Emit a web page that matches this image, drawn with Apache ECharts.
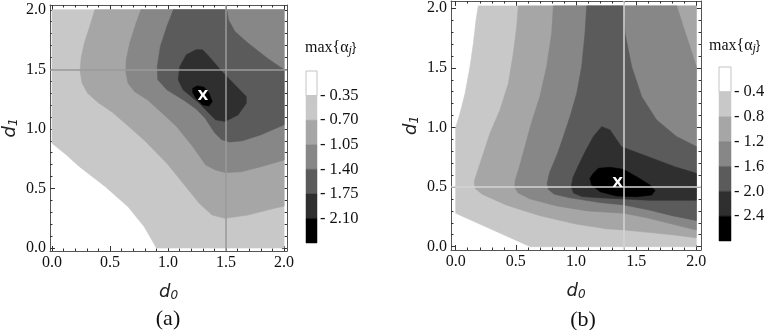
<!DOCTYPE html>
<html>
<head>
<meta charset="utf-8">
<script src="https://cdn.jsdelivr.net/npm/echarts@6/dist/echarts.min.js"></script>
<style>
  html, body { margin: 0; background: #fff; }
  #chart { width: 768px; height: 330px; }
</style>
</head>
<body>
<div id="chart"></div>
<script>
// contour levels shown in the two colour bars
const aLevels = [0.35, 0.70, 1.05, 1.40, 1.75, 2.10]
const bLevels = [0.4, 0.8, 1.2, 1.6, 2.0, 2.4]
const grays = ['#ffffff', '#c8c8c8', '#a6a6a6', '#878787', '#5b5b5b', '#2f2f2f', '#000000']

const majorTicks = [0, 0.5, 1.0, 1.5, 2.0]
const minorTicks = [0.1, 0.2, 0.3, 0.4, 0.6, 0.7, 0.8, 0.9, 1.1, 1.2, 1.3, 1.4, 1.6, 1.7, 1.8, 1.9]

// (a) regions max{a_j} > level as (d0, d1)
const aBand1 = [[0, 2], [0, 0.88], [0.12, 0.785], [0.237, 0.683], [0.46, 0.515], [0.655, 0.347], [0.795, 0.179], [0.9, 0], [2, 0], [2, 2]]
const aBand2 = [[0.37, 2], [0.335, 1.888], [0.279, 1.72], [0.251, 1.594], [0.243, 1.482], [0.26, 1.384], [0.307, 1.3], [0.40, 1.22], [0.52, 1.14], [0.64, 1.04], [0.80, 0.90], [0.99, 0.711], [1.13, 0.543], [1.269, 0.375], [1.38, 0.277], [1.49, 0.249], [1.688, 0.277], [1.855, 0.319], [2, 0.353], [2, 2]]
const aBand3 = [[0.767, 2], [0.725, 1.888], [0.67, 1.72], [0.64, 1.58], [0.636, 1.48], [0.655, 1.384], [0.711, 1.314], [0.823, 1.244], [0.93, 1.15], [1.074, 1.02], [1.213, 0.852], [1.325, 0.697], [1.409, 0.655], [1.492, 0.633], [1.632, 0.641], [1.8, 0.683], [2, 0.739], [2, 2]]
const aBand4 = [[1.046, 2], [0.99, 1.86], [0.934, 1.692], [0.907, 1.524], [0.912, 1.412], [0.99, 1.328], [1.13, 1.244], [1.24, 1.17], [1.32, 1.09], [1.40, 0.97], [1.46, 0.91], [1.53, 0.89], [1.64, 0.90], [1.80, 0.95], [2, 1.035], [2, 1.496], [1.855, 1.594], [1.688, 1.72], [1.576, 1.818], [1.52, 1.916], [1.506, 2]]
const aBand5 = [[1.241, 1.664], [1.158, 1.622], [1.102, 1.524], [1.088, 1.412], [1.13, 1.328], [1.269, 1.216], [1.409, 1.076], [1.492, 1.062], [1.604, 1.118], [1.674, 1.216], [1.674, 1.272], [1.604, 1.342], [1.464, 1.482], [1.353, 1.608], [1.297, 1.664]]
const aBand6 = [[1.213, 1.342], [1.255, 1.361], [1.311, 1.35], [1.353, 1.3], [1.381, 1.23], [1.353, 1.193], [1.297, 1.202], [1.241, 1.258], [1.213, 1.306]]

// (b)
const bBand1 = [[0.188, 2.02], [0.169, 1.9], [0.147, 1.706], [0.119, 1.51], [0.078, 1.286], [0.036, 1.119], [0, 1.0], [0, 0.28], [0.62, 0], [2, 0], [2, 2.02]]
const bBand2 = [[0.52, 2.02], [0.507, 1.846], [0.479, 1.622], [0.438, 1.37], [0.368, 1.147], [0.285, 0.951], [0.2, 0.69], [0.155, 0.55], [0.16, 0.49], [0.22, 0.44], [0.42, 0.35], [0.7, 0.26], [1.0, 0.19], [1.25, 0.15], [1.4, 0.14], [1.6, 0.12], [1.8, 0.10], [2, 0.075], [2, 2.02]]
const bBand3 = [[0.812, 2.02], [0.798, 1.79], [0.756, 1.51], [0.70, 1.26], [0.63, 1.04], [0.576, 0.84], [0.53, 0.67], [0.495, 0.56], [0.49, 0.5], [0.52, 0.45], [0.62, 0.40], [0.85, 0.34], [1.1, 0.30], [1.4, 0.28], [1.6, 0.24], [1.8, 0.19], [2, 0.14], [2, 1.51], [1.947, 1.678], [1.892, 1.846], [1.837, 2.02]]
const bBand4 = [[1.089, 2.02], [1.075, 1.79], [1.047, 1.51], [1.006, 1.286], [0.95, 1.09], [0.895, 0.923], [0.85, 0.79], [0.78, 0.62], [0.76, 0.53], [0.77, 0.48], [0.82, 0.44], [0.95, 0.41], [1.2, 0.37], [1.4, 0.35], [1.6, 0.31], [1.8, 0.26], [2, 0.22], [2, 0.84], [1.837, 0.923], [1.67, 1.063], [1.546, 1.258], [1.463, 1.51], [1.407, 1.79], [1.393, 2.02]]
const bBand5 = [[1.213, 1.007], [1.144, 0.923], [1.075, 0.794], [1.02, 0.68], [0.975, 0.58], [0.96, 0.5], [0.98, 0.45], [1.05, 0.42], [1.2, 0.41], [1.4, 0.40], [1.6, 0.39], [1.8, 0.39], [2, 0.39], [2, 0.615], [1.82, 0.671], [1.598, 0.755], [1.377, 0.839], [1.283, 0.979]]
const bBand6 = [[1.144, 0.615], [1.186, 0.657], [1.283, 0.666], [1.393, 0.649], [1.504, 0.587], [1.615, 0.517], [1.657, 0.47], [1.629, 0.433], [1.504, 0.419], [1.338, 0.425], [1.2, 0.461], [1.13, 0.517], [1.116, 0.573]]

// reference lines and optimum marker
const aGridX = [1.5], aGridY = [1.5], aBest = [1.3, 1.27]
const bGridX = [1.4], bGridY = [0.5], bBest = [1.346, 0.53]

const aBands = [aBand1, aBand2, aBand3, aBand4, aBand5, aBand6]
const bBands = [bBand1, bBand2, bBand3, bBand4, bBand5, bBand6]

const serif = '"Liberation Serif", "DejaVu Serif", serif'
const sans = '"DejaVu Sans", sans-serif'

const nameStyle = {
  rich: {
    d: {fontFamily: sans, fontStyle: 'italic', fontSize: 18, color: '#222'},
    s: {fontFamily: sans, fontStyle: 'italic', fontSize: 12, color: '#222', verticalAlign: 'bottom', padding: [8, 0, 0, 0]}
  }
}

// frame axes like Mathematica: major + minor ticks on all four sides
function frameAxes(dim, gi, min, max, name) {
  const sides = dim === 'x' ? ['bottom', 'top'] : ['left', 'right']
  const out = []
  sides.forEach((side, k) => {
    const main = k === 0
    out.push({
      type: 'value', gridIndex: gi, position: side, min: min, max: max,
      name: main ? name : '', nameLocation: 'middle',
      nameGap: dim === 'x' ? 31 : 30, nameRotate: dim === 'y' ? 90 : 0,
      nameTextStyle: nameStyle,
      axisLine: {show: true, onZero: false, lineStyle: {color: '#555', width: 1}},
      splitLine: {show: false},
      axisTick: {show: true, inside: true, length: 5, customValues: majorTicks, lineStyle: {color: '#333'}},
      axisLabel: {show: main, customValues: majorTicks, formatter: v => v.toFixed(1),
        fontFamily: serif, fontSize: 16, color: '#111', margin: 4}
    })
    out.push({
      type: 'value', gridIndex: gi, position: side, min: min, max: max,
      axisLine: {show: false, onZero: false}, splitLine: {show: false},
      axisTick: {show: true, inside: true, length: 2.5, customValues: minorTicks, lineStyle: {color: '#333'}},
      axisLabel: {show: false}
    })
  })
  return out
}

function bandSeries(bands, ai) {
  return {
    type: 'custom', xAxisIndex: ai, yAxisIndex: ai, silent: true, animation: false,
    data: bands.map(b => b[0]),
    renderItem: (params, api) => {
      const pts = bands[params.dataIndex].map(p => api.coord(p))
      const c = grays[params.dataIndex + 1]
      return {type: 'polygon', shape: {points: pts}, style: {fill: c, stroke: c, lineWidth: 0.6}}
    }
  }
}

function refSeries(ai, gx, gy, best, lineColor) {
  return {
    type: 'custom', xAxisIndex: ai, yAxisIndex: ai, silent: true, animation: false, z: 5,
    data: [best],
    renderItem: (params, api) => {
      const p = api.coord([api.value(0), api.value(1)])
      return {type: 'text', x: p[0], y: p[1],
        style: {text: 'X', fill: '#fff', font: 'bold 14px ' + sans, align: 'center', verticalAlign: 'middle'}}
    },
    markLine: {
      silent: true, symbol: 'none', animation: false, label: {show: false},
      lineStyle: {color: lineColor, width: 1.5, type: 'solid'},
      data: gx.map(v => ({xAxis: v})).concat(gy.map(v => ({yAxis: v})))
    }
  }
}

function barSeries(levels, top, ai) {
  const edges = [0].concat(levels, [top])
  const data = []
  for (let i = 0; i < edges.length - 1; i++) data.push([edges[i], edges[i + 1]])
  return {
    type: 'custom', xAxisIndex: ai, yAxisIndex: ai, silent: true, animation: false,
    data: data,
    renderItem: (params, api) => {
      const p0 = api.coord([0, api.value(0)])
      const p1 = api.coord([1, api.value(1)])
      const first = params.dataIndex === 0
      return {type: 'rect', shape: {x: p0[0], y: p0[1], width: p1[0] - p0[0], height: p1[1] - p0[1]},
        style: {fill: grays[params.dataIndex], stroke: first ? '#c4c4c4' : grays[params.dataIndex], lineWidth: first ? 1 : 0.5}}
    }
  }
}

function barAxes(gi, levels, top, digits) {
  return {
    x: {type: 'value', gridIndex: gi, min: 0, max: 1, show: false},
    y: {type: 'value', gridIndex: gi, min: 0, max: top, inverse: true, position: 'right',
      axisLine: {show: false}, axisTick: {show: false}, splitLine: {show: false},
      axisLabel: {show: true, customValues: levels, formatter: v => '- ' + v.toFixed(digits),
        fontFamily: serif, fontSize: 16.5, color: '#111', margin: 3}}
  }
}

const aBar = barAxes(2, aLevels, 2.45, 2)
const bBar = barAxes(3, bLevels, 2.8, 1)

const titleRich = {
  t: {fontFamily: serif, fontSize: 16, fill: '#111'},
  j: {fontFamily: serif, fontStyle: 'italic', fontSize: 12, fill: '#111', padding: [6, 0, 0, 0]}
}

const option = {
  animation: false,
  grid: [
    {left: 43, top: 5, width: 244, height: 246},
    {left: 451, top: 1, width: 250, height: 249},
    {left: 306, top: 71, width: 11, height: 172},
    {left: 719, top: 67, width: 12, height: 174}
  ],
  xAxis: [].concat(
    frameAxes('x', 0, -0.017, 2.025, '{d|d}{s|0}'),
    frameAxes('x', 1, -0.039, 2.039, '{d|d}{s|0}'),
    [aBar.x, bBar.x]
  ),
  yAxis: [].concat(
    frameAxes('y', 0, -0.025, 2.04, '{d|d}{s|1}'),
    frameAxes('y', 1, -0.028, 2.061, '{d|d}{s|1}'),
    [aBar.y, bBar.y]
  ),
  series: [
    bandSeries(aBands, 0),
    refSeries(0, aGridX, aGridY, aBest, '#9a9a9a'),
    bandSeries(bBands, 4),
    refSeries(4, bGridX, bGridY, bBest, '#d4d4d4'),
    barSeries(aLevels, 2.45, 8),
    barSeries(bLevels, 2.8, 9)
  ],
  graphic: [
    {type: 'text', left: 305, top: 40, style: {text: '{t|max{\u03b1}{j|j}{t|}}', rich: titleRich}},
    {type: 'text', left: 709, top: 38, style: {text: '{t|max{\u03b1}{j|j}{t|}}', rich: titleRich}},
    {type: 'text', x: 168, y: 319, style: {text: '(a)', font: '22px ' + serif, fill: '#111', align: 'center', verticalAlign: 'middle'}},
    {type: 'text', x: 583, y: 320, style: {text: '(b)', font: '22px ' + serif, fill: '#111', align: 'center', verticalAlign: 'middle'}}
  ]
}

const myChart = echarts.init(document.getElementById('chart'))
myChart.setOption(option)
</script>
</body>
</html>
